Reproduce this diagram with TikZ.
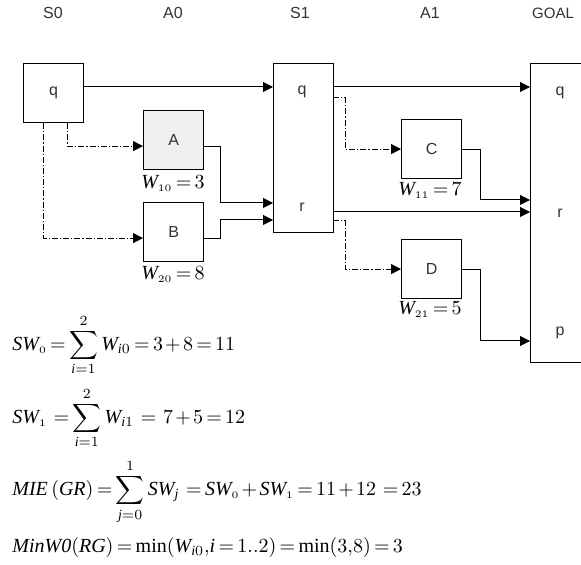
\documentclass[tikz,border=0pt]{standalone}
\usepackage{amsmath}
\usepackage{fontspec}
\setmainfont{Liberation Serif}
\setsansfont{Liberation Sans}
\usepackage{tikz}
\usetikzlibrary{positioning,arrows.meta,calc}

\definecolor{inkgray}{RGB}{51,51,51}
\definecolor{shade}{RGB}{240,240,240}
\newcommand\mv[1]{\mathit{#1}}

\begin{document}
\begin{tikzpicture}[x=0.5pt,y=-0.5pt,font=\sffamily\fontsize{8}{10}\selectfont,
  box/.style={draw,line width=0.6pt,minimum width=30pt,minimum height=29.5pt,inner sep=0pt,text=inkgray},
  tall/.style={draw,line width=0.6pt,minimum width=30pt,inner sep=0pt,anchor=north west},
  arr/.style={-{Triangle[length=5pt,width=5pt]},line width=0.5pt},
  alt/.style={arr,dash pattern=on 3pt off 1pt on 0.6pt off 1pt},
  wt/.style={font=\fontsize{10}{12}\selectfont},
  eq/.style={anchor=west,inner sep=0pt,font=\fontsize{10}{12}\selectfont}]
  \useasboundingbox (0,0) rectangle (581,565);
  \clip (0,0) rectangle (581,565);
  % level headings
  \foreach \x/\t in {53/S0,173/A0,300/S1,430/A1}{
    \node[text=inkgray] at (\x,13) {\t};}
  \node[text=inkgray,inner sep=0pt,font=\sffamily\fontsize{7.5}{9}\selectfont] at (553,13) {GOAL};
  % states and actions
  \node[box,anchor=north west] (s0q) at (23,63) {q};
  \node[box,anchor=north west,fill=shade] (a) at (143,110) {A};
  \node[box,anchor=north west] (b) at (143,202) {B};
  \node[tall,minimum height=84.5pt] (s1) at (273,63) {};
  \node[text=inkgray] (s1q) at (302,92) {q};
  \node[text=inkgray] (s1r) at (302,207) {r};
  \node[box,anchor=north west] (c) at (401,119) {C};
  \node[box,anchor=north west] (d) at (401,239) {D};
  \node[tall,minimum width=40pt,minimum height=149.5pt] (goal) at (530,63) {};
  \node[text=inkgray] (gq) at (560,93) {q};
  \node[text=inkgray] (gr) at (560,213) {r};
  \node[text=inkgray] (gp) at (560,333) {p};
  % action weights
  \node[wt] (wa) at (173,183) {$\mv{W}_{\scriptscriptstyle 10}\,{=}\,3$};
  \node[wt] (wb) at (173,274) {$\mv{W}_{\scriptscriptstyle 20}\,{=}\,8$};
  \node[wt] (wc) at (430,190) {$\mv{W}_{\scriptscriptstyle 11}\,{=}\,7$};
  \node[wt] (wd) at (430,309) {$\mv{W}_{\scriptscriptstyle 21}\,{=}\,5$};
  % ports on the tall boxes
  \coordinate (s1in1) at (273,87);
  \coordinate (s1in2) at (273,203);
  \coordinate (s1in3) at (273,220);
  \coordinate (s1out1) at (333,87);
  \coordinate (s1out2) at (333,98);
  \coordinate (s1out3) at (333,212);
  \coordinate (s1out4) at (333,221);
  \coordinate (goalin1) at (530,87);
  \coordinate (goalin2) at (530,200);
  \coordinate (goalin3) at (530,212);
  \coordinate (goalin4) at (530,341);
  % S0 -> A0 -> S1
  \draw[arr] (s0q.east |- s1in1) -- (s1in1);
  \draw[alt] ([xshift=7pt]s0q.south) |- ([yshift=-3pt]a.west);
  \draw[alt] ([xshift=-5pt]s0q.south) |- ([yshift=-3pt]b.west);
  \draw[arr] ([yshift=-3pt]a.east) -- ++(16,0) |- (s1in2);
  \draw[arr] ([yshift=-3pt]b.east) -- ++(16,0) |- (s1in3);
  % S1 -> A1 -> GOAL
  \draw[arr] (s1out1) -- (goalin1);
  \draw[alt] (s1out2) -- ++(12,0) |- (c.west);
  \draw[alt] (s1out4) -- ++(12,0) |- (d.west);
  \draw[arr] (c.east) -- ++(18,0) |- (goalin2);
  \draw[arr] (s1out3) -- (goalin3);
  \draw[arr] (d.east) -- ++(18,0) |- (goalin4);
  % sums of the weights
  \begin{scope}[every node/.append style={execute at begin node={\thickmuskip=3mu plus 1mu\medmuskip=2mu}}]
  \node[eq] (sw0) at (12,345) {$\mv{SW}_{\scriptscriptstyle 0}=\displaystyle\sum_{\mv{i}=1}^{2}\mv{W}_{\mv{i}0}=3+8=11$};
  \node[eq] (sw1) at (12,418) {$\mv{SW}_{\scriptscriptstyle 1}\,=\displaystyle\sum_{\mv{i}=1}^{2}\mv{W}_{\mv{i}1}\,=\,7+5=12$};
  \node[eq] (mie) at (12,492) {$\mv{MIE}\,(\mv{GR})=\displaystyle\sum_{\mv{j}=0}^{1}\mv{SW}_{\mv{j}}\;=\mv{SW}_{\scriptscriptstyle 0}+\mv{SW}_{\scriptscriptstyle 1}=11+12\;=23$};
  \node[eq] (minw) at (12,547) {$\mv{Min}\mv{W0}(\mv{RG})=\min(\mv{W}_{\mv{i}0}{,}\mv{i}=1..2)=\min(3{,}8)=3$};
  \end{scope}
\end{tikzpicture}
\end{document}
